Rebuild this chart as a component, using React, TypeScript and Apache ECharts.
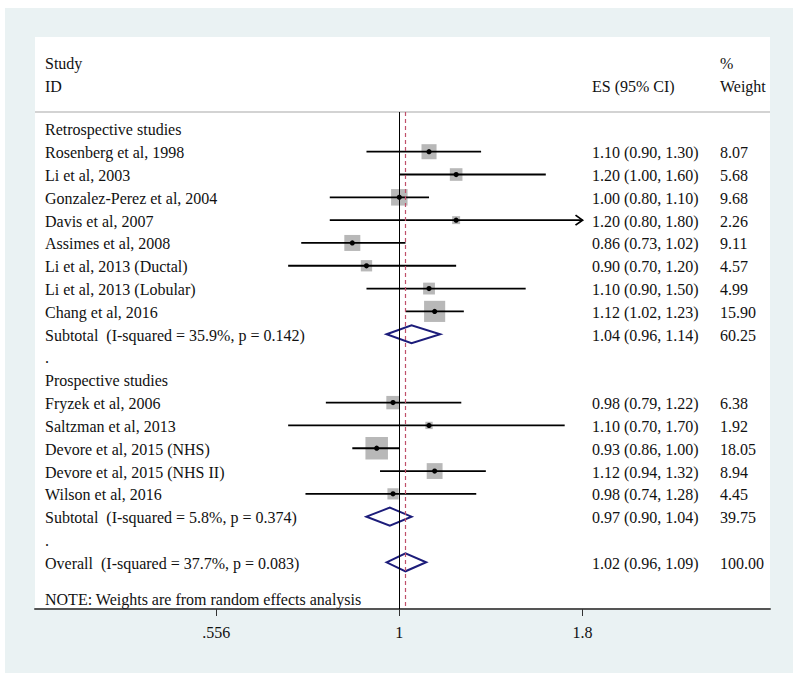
import React, { useEffect, useRef } from "react";
import * as echarts from "echarts";

// ---------- data ----------
const groupHeaders = ["Retrospective studies", "Prospective studies"];
const groupHeaderRows = [0, 11];

const studyNames = [
  "Rosenberg et al, 1998",
  "Li et al, 2003",
  "Gonzalez-Perez et al, 2004",
  "Davis et al, 2007",
  "Assimes et al, 2008",
  "Li et al, 2013 (Ductal)",
  "Li et al, 2013 (Lobular)",
  "Chang et al, 2016",
  "Fryzek et al, 2006",
  "Saltzman et al, 2013",
  "Devore et al, 2015 (NHS)",
  "Devore et al, 2015 (NHS II)",
  "Wilson et al, 2016",
];
const studyRows = [1, 2, 3, 4, 5, 6, 7, 8, 12, 13, 14, 15, 16];
const studyES = [1.1, 1.2, 1.0, 1.2, 0.86, 0.9, 1.1, 1.12, 0.98, 1.1, 0.93, 1.12, 0.98];
const studyLo = [0.9, 1.0, 0.8, 0.8, 0.73, 0.7, 0.9, 1.02, 0.79, 0.7, 0.86, 0.94, 0.74];
const studyHi = [1.3, 1.6, 1.1, 1.8, 1.02, 1.2, 1.5, 1.23, 1.22, 1.7, 1.0, 1.32, 1.28];
const studyWeight = [8.07, 5.68, 9.68, 2.26, 9.11, 4.57, 4.99, 15.9, 6.38, 1.92, 18.05, 8.94, 4.45];

const poolLabels = [
  "Subtotal\u00a0 (I-squared = 35.9%, p = 0.142)",
  "Subtotal\u00a0 (I-squared = 5.8%, p = 0.374)",
  "Overall\u00a0 (I-squared = 37.7%, p = 0.083)",
];
const poolRows = [9, 17, 19];
const poolES = [1.04, 0.97, 1.02];
const poolLo = [0.96, 0.9, 0.96];
const poolHi = [1.14, 1.04, 1.09];
const poolWeight = [60.25, 39.75, 100.0];

const dotRows = [10, 18];
const noteText = "NOTE: Weights are from random effects analysis";
const noteRow = 20.6;

const tickValues = [0.556, 1, 1.8];
const tickLabels = [".556", "1", "1.8"];
const axisMinValue = 0.3107;
const axisMaxValue = 3.285;
const clipMax = 1.8;
const nullValue = 1;
const overallES = 1.02;

// ---------- styles ----------
const FONT = "'Liberation Serif', 'Times New Roman', serif";
const FS = 16;
const TXT = "#111111";
const NAVY = "#1c1c7a";

const fmt = (v: number) => v.toFixed(2);

export default function App() {
  const ref = useRef<HTMLDivElement>(null);

  useEffect(() => {
    if (!ref.current) return;
    const chart = echarts.init(ref.current, undefined, { renderer: "svg" });
    const ln = Math.log;

    const textEl = (text: string, x: number, y: number) => ({
      type: "text",
      x,
      y: y + 1,
      style: {
        text,
        fill: TXT,
        fontSize: FS,
        fontFamily: FONT,
        align: "left",
        verticalAlign: "middle",
      },
    });

    const nameX = 45;
    const esX = 592;
    const wX = 720;

    const studyData = studyNames.map((_, i) => [
      ln(studyES[i]),
      studyRows[i],
      ln(studyLo[i]),
      ln(Math.min(studyHi[i], clipMax)),
      studyWeight[i],
    ]);
    const poolData = poolLabels.map((_, i) => [ln(poolES[i]), poolRows[i], ln(poolLo[i]), ln(poolHi[i])]);
    const labelData = [
      ...groupHeaders.map((t, i) => [0, groupHeaderRows[i], t]),
      ...dotRows.map((r) => [0, r, "."]),
      [0, noteRow, noteText],
    ];

    const headerStyle = (text: string) => ({
      text,
      fill: TXT,
      fontSize: FS,
      fontFamily: FONT,
      align: "left",
      verticalAlign: "middle",
    });

    const option: any = {
      animation: false,
      backgroundColor: "#ffffff",
      grid: { left: 35, right: 30, top: 112, bottom: 72, containLabel: false },
      xAxis: {
        type: "value",
        position: "bottom",
        min: ln(axisMinValue),
        max: ln(axisMaxValue),
        axisLine: { show: true, onZero: false, lineStyle: { color: "#555555", width: 2 } },
        axisTick: {
          show: true,
          customValues: tickValues.map((v) => ln(v)),
          length: 7,
          lineStyle: { color: "#333333", width: 1 },
        },
        axisLabel: {
          show: true,
          customValues: tickValues.map((v) => ln(v)),
          formatter: (v: number) => {
            let best = 0;
            tickValues.forEach((t, k) => {
              if (Math.abs(ln(t) - v) < Math.abs(ln(tickValues[best]) - v)) best = k;
            });
            return tickLabels[best];
          },
          margin: 15,
          color: TXT,
          fontSize: FS,
          fontFamily: FONT,
        },
        splitLine: { show: false },
      },
      yAxis: {
        type: "value",
        inverse: true,
        min: -0.741,
        max: 21.048,
        show: false,
        splitLine: { show: false },
      },
      graphic: [
        { type: "rect", z: -10, silent: true, shape: { x: 5, y: 8, width: 788, height: 665 }, style: { fill: "#eaf2f3" } },
        { type: "rect", z: -9, silent: true, shape: { x: 35, y: 37, width: 735, height: 572 }, style: { fill: "#ffffff" } },
        { type: "line", z: -8, silent: true, shape: { x1: 35, y1: 112, x2: 770, y2: 112 }, style: { stroke: "#c4c4c4", lineWidth: 1.5 } },
        { type: "text", x: 45, y: 63, style: headerStyle("Study") },
        { type: "text", x: 45, y: 86, style: headerStyle("ID") },
        { type: "text", x: 592, y: 86, style: headerStyle("ES (95% CI)") },
        { type: "text", x: 720, y: 63, style: headerStyle("%") },
        { type: "text", x: 720, y: 86, style: headerStyle("Weight") },
      ],
      series: [
        {
          type: "custom",
          name: "labels",
          data: labelData,
          silent: true,
          renderItem: (params: any, api: any) => {
            const d = labelData[params.dataIndex];
            const y = api.coord([0, api.value(1)])[1];
            return textEl(String(d[2]), nameX, y);
          },
          markLine: {
            silent: true,
            symbol: ["none", "none"],
            label: { show: false },
            lineStyle: { color: "#000000", width: 1, type: "solid" },
            data: [{ xAxis: ln(nullValue) }],
          },
        },
        {
          type: "custom",
          name: "studies",
          data: studyData,
          silent: true,
          renderItem: (params: any, api: any) => {
            const i = params.dataIndex;
            const [xe, y] = api.coord([api.value(0), api.value(1)]);
            const xl = api.coord([api.value(2), api.value(1)])[0];
            const xh = api.coord([api.value(3), api.value(1)])[0];
            const side = 5.3 * Math.sqrt(api.value(4));
            const children: any[] = [
              { type: "rect", shape: { x: xe - side / 2, y: y - side / 2, width: side, height: side }, style: { fill: "#b8b8b8" } },
              { type: "line", shape: { x1: xl, y1: y, x2: xh, y2: y }, style: { stroke: "#000000", lineWidth: 1.8 } },
              { type: "circle", shape: { cx: xe, cy: y, r: 2.6 }, style: { fill: "#000000" } },
            ];
            if (studyHi[i] >= clipMax) {
              children.push({
                type: "polyline",
                shape: { points: [[xh - 7, y - 5], [xh, y], [xh - 7, y + 5]] },
                style: { stroke: "#000000", lineWidth: 1.8, fill: "none" },
              });
            }
            children.push(textEl(studyNames[i], nameX, y));
            children.push(textEl(`${fmt(studyES[i])} (${fmt(studyLo[i])}, ${fmt(studyHi[i])})`, esX, y));
            children.push(textEl(fmt(studyWeight[i]), wX, y));
            return { type: "group", children };
          },
        },
        {
          type: "custom",
          name: "pooled",
          data: poolData,
          silent: true,
          renderItem: (params: any, api: any) => {
            const i = params.dataIndex;
            const [xe, y] = api.coord([api.value(0), api.value(1)]);
            const xl = api.coord([api.value(2), api.value(1)])[0];
            const xh = api.coord([api.value(3), api.value(1)])[0];
            const h = 9;
            return {
              type: "group",
              children: [
                {
                  type: "polygon",
                  shape: { points: [[xl, y], [xe, y - h], [xh, y], [xe, y + h]] },
                  style: { fill: "none", stroke: NAVY, lineWidth: 2 },
                },
                textEl(poolLabels[i], nameX, y),
                textEl(`${fmt(poolES[i])} (${fmt(poolLo[i])}, ${fmt(poolHi[i])})`, esX, y),
                textEl(fmt(poolWeight[i]), wX, y),
              ],
            };
          },
          markLine: {
            silent: true,
            symbol: ["none", "none"],
            label: { show: false },
            lineStyle: { color: "#c0506a", width: 1.2, type: [4, 3], opacity: 1 },
            data: [{ xAxis: ln(overallES) }],
          },
        },
      ],
    };

    chart.setOption(option);
    return () => chart.dispose();
  }, []);

  return (
    <div
      ref={ref}
      style={{ position: "absolute", left: 0, top: 0, width: 800, height: 681 }}
    />
  );
}
